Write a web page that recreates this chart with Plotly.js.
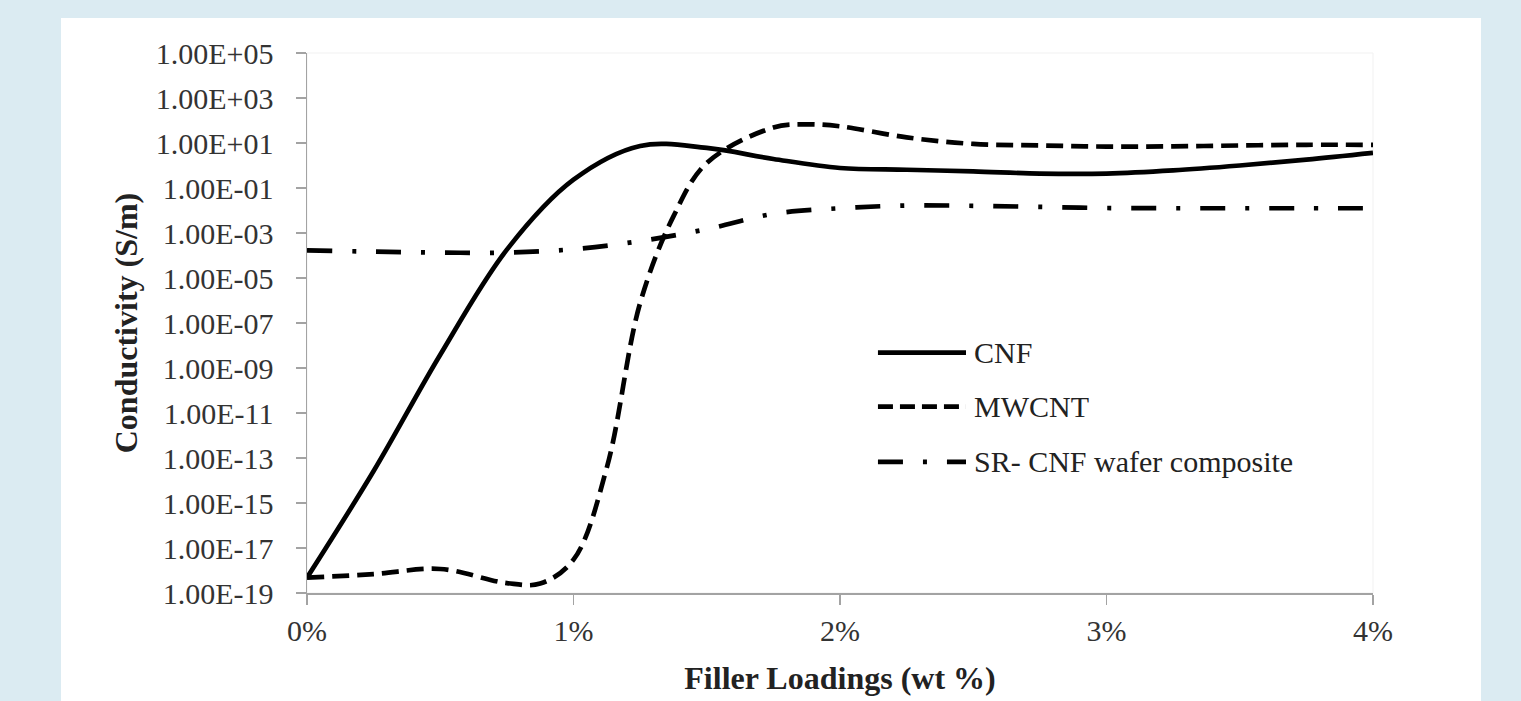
<!DOCTYPE html>
<html>
<head>
<meta charset="utf-8">
<script src="https://cdn.plot.ly/plotly-3.0.1.min.js"></script>
<style>
  html, body { margin:0; padding:0; width:1521px; height:701px; overflow:hidden; background:#dbebf2; }
  #panel { position:absolute; left:61px; top:18px; width:1420px; height:683px; background:#ffffff; }
  #chart { position:absolute; left:0; top:0; width:1521px; height:701px; }
</style>
</head>
<body>
<div id="panel"></div>
<div id="chart"></div>
<script>
// ---- data ----
const seriesNames = ['CNF', 'MWCNT', 'SR- CNF wafer composite'];

const cnfLoading = [0, 0.25, 0.5, 0.75, 1, 1.25, 1.5, 1.75, 2, 2.25, 2.5, 2.75, 3, 3.25, 3.5, 3.75, 4];
const cnfConductivity = [4.79e-19, 2.63e-14, 3.89e-9, 1.82e-4, 0.234, 7.41, 6.03, 1.95, 0.776, 0.646, 0.550, 0.437, 0.437, 0.603, 1.0, 1.82, 3.63];

const mwcntLoading = [0, 0.25, 0.5, 0.75, 0.875, 1, 1.125, 1.25, 1.375, 1.5, 1.75, 1.875, 2, 2.25, 2.5, 2.75, 3, 3.25, 3.5, 3.75, 4];
const mwcntConductivity = [4.79e-19, 6.92e-19, 1.17e-18, 2.75e-19, 2.63e-19, 3.02e-18, 3.72e-14, 7.76e-7, 5.50e-3, 1.29, 49.0, 67.6, 55.0, 17.8, 9.12, 7.76, 6.92, 7.08, 7.76, 8.32, 8.32];

const srLoading = [0, 0.25, 0.5, 0.75, 1, 1.25, 1.5, 1.75, 2, 2.25, 2.5, 2.75, 3, 3.25, 3.5, 3.75, 4];
const srConductivity = [1.70e-4, 1.48e-4, 1.35e-4, 1.35e-4, 1.91e-4, 4.37e-4, 1.48e-3, 7.08e-3, 1.26e-2, 1.66e-2, 1.62e-2, 1.45e-2, 1.29e-2, 1.26e-2, 1.26e-2, 1.26e-2, 1.26e-2];

const xTickVals = [0, 1, 2, 3, 4];
const xTickText = ['0%', '1%', '2%', '3%', '4%'];
const yTickVals = [1e-19, 1e-17, 1e-15, 1e-13, 1e-11, 1e-9, 1e-7, 1e-5, 1e-3, 1e-1, 1e1, 1e3, 1e5];
const yTickText = ['1.00E-19', '1.00E-17', '1.00E-15', '1.00E-13', '1.00E-11', '1.00E-09', '1.00E-07', '1.00E-05', '1.00E-03', '1.00E-01', '1.00E+01', '1.00E+03', '1.00E+05'];

// ---- styles ----
const serif = 'Liberation Serif, Times New Roman, serif';
const axisGray = '#a3a3a3';
const lineW = 4.7;
const plotDashes = ['solid', '17px,8px', '25px,20px,4px,20px'];
const legendDashes = ['solid', '15px,7px', '25px,20px,4px,20px'];
const legendRowY = [0.445, 0.345, 0.243];

const xs = [cnfLoading, mwcntLoading, srLoading];
const ys = [cnfConductivity, mwcntConductivity, srConductivity];

const traces = seriesNames.map((name, i) => ({
  type: 'scatter',
  mode: 'lines',
  name: name,
  x: xs[i],
  y: ys[i],
  line: { color: '#000000', width: lineW, shape: 'spline', smoothing: 1, dash: plotDashes[i] },
  showlegend: false,
  hoverinfo: 'x+y+name'
}));

const shapes = [
  { type: 'rect', xref: 'paper', yref: 'paper', x0: 0, x1: 1, y0: 0, y1: 1,
    line: { color: '#f1f1f1', width: 1 }, layer: 'below' }
];
const annotations = [];
seriesNames.forEach((name, i) => {
  shapes.push({ type: 'line', xref: 'paper', yref: 'paper',
    x0: 0.5356, x1: 0.6182, y0: legendRowY[i], y1: legendRowY[i],
    line: { color: '#000000', width: lineW, dash: legendDashes[i] } });
  annotations.push({ xref: 'paper', yref: 'paper', x: 0.6235, y: legendRowY[i],
    xanchor: 'left', yanchor: 'middle', showarrow: false, text: name,
    font: { family: serif, size: 30, color: '#222222' } });
});

const layout = {
  width: 1521, height: 701,
  margin: { l: 307, r: 148, t: 53, b: 108, pad: 0 },
  paper_bgcolor: 'rgba(0,0,0,0)',
  plot_bgcolor: 'rgba(0,0,0,0)',
  showlegend: false,
  xaxis: {
    range: [0, 4], tickvals: xTickVals, ticktext: xTickText,
    showgrid: false, zeroline: false, showline: true, linecolor: axisGray, linewidth: 1.5,
    ticks: 'outside', ticklen: 10, tickwidth: 1.5, tickcolor: axisGray,
    ticklabelstandoff: 0,
    tickfont: { family: serif, size: 30, color: '#333333' },
    title: { text: 'Filler Loadings (wt %)', standoff: 21,
      font: { family: serif, size: 32, color: '#222222', weight: 700 } }
  },
  yaxis: {
    type: 'log', range: [-19, 5], tickvals: yTickVals, ticktext: yTickText,
    showgrid: false, zeroline: false, showline: true, linecolor: axisGray, linewidth: 1.5,
    ticks: 'outside', ticklen: 10, tickwidth: 1.5, tickcolor: axisGray,
    ticklabelstandoff: 16,
    tickfont: { family: serif, size: 30, color: '#333333' },
    title: { text: 'Conductivity (S/m)', standoff: 8,
      font: { family: serif, size: 32, color: '#222222', weight: 700 } }
  },
  shapes: shapes,
  annotations: annotations
};

Plotly.newPlot('chart', traces, layout, { displayModeBar: false, staticPlot: true });
</script>
</body>
</html>
